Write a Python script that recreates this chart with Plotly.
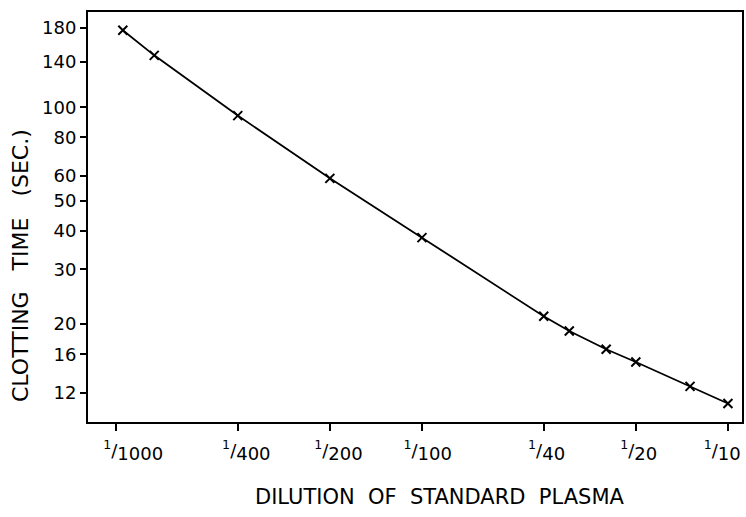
import plotly.graph_objects as go

# Data
dilution_denominators = [950, 750, 400, 200, 100, 40, 33, 25, 20, 13.3, 10]
clotting_time_sec = [177, 147, 94, 59, 38, 21.2, 19.0, 16.6, 15.1, 12.6, 11.1]

x_tick_denoms = [1000, 400, 200, 100, 40, 20, 10]
x_label_pad_left = [6, 3, 3, 2, 1, 1, 0]   # spaces nudging each label right, as drawn
x_label_pad_right = [0, 0, 0, 0, 0, 0, 2]  # spaces nudging the last label left
x_tick_text = ["\u00a0" * pl + "<sup>1</sup>/<sub><span style='font-size:18px'>%d</span></sub>" % d
               + "\u00a0" * pr
               for d, pl, pr in zip(x_tick_denoms, x_label_pad_left, x_label_pad_right)]
y_tick_vals = [12, 16, 20, 30, 40, 50, 60, 80, 100, 140, 180]

x_vals = [1.0 / d for d in dilution_denominators]
x_ticks = [1.0 / d for d in x_tick_denoms]

FONT = "DejaVu Sans"
W, H = 746, 517
# plot area in window pixels: left 88, right 742, top 12, bottom 422
ML, MR, MT, MB = 88, W - 742, 12, H - 422

fig = go.Figure()
fig.add_trace(go.Scatter(
    x=x_vals, y=clotting_time_sec, mode="lines+markers",
    line=dict(color="black", width=1.8),
    marker=dict(symbol="x-thin", size=9, line=dict(color="black", width=2), color="black"),
    showlegend=False,
))

fig.update_layout(
    width=W, height=H,
    margin=dict(l=ML, r=MR, t=MT, b=MB, autoexpand=False),
    plot_bgcolor="white", paper_bgcolor="white",
    font=dict(family=FONT, color="black"),
    xaxis=dict(
        type="log", range=[-3.0915, -0.954], automargin=False,
        tickvals=x_ticks, ticktext=x_tick_text,
        ticks="outside", ticklen=7, tickwidth=2, tickcolor="black",
        showline=True, linecolor="black", linewidth=2, mirror=True,
        showgrid=False, zeroline=False,
        tickfont=dict(size=18, family=FONT),
        ticklabelstandoff=4, ticklabeloverflow="allow",
    ),
    yaxis=dict(
        type="log", range=[0.9856, 2.307], automargin=False,
        tickvals=y_tick_vals, ticktext=[str(v) for v in y_tick_vals],
        ticks="outside", ticklen=6, tickwidth=2, tickcolor="black",
        showline=True, linecolor="black", linewidth=2, mirror=True,
        showgrid=False, zeroline=False,
        tickfont=dict(size=18, family=FONT),
    ),
)

pw, ph = W - ML - MR, H - MT - MB
def px_to_paper(px, py):
    return (px - ML) / pw, (H - MB - py) / ph

ax, ay = px_to_paper(20, 266)
bx, by = px_to_paper(439, 497)
fig.add_annotation(text="CLOTTING   TIME   (SEC.)", x=ax, y=ay, xref="paper", yref="paper",
                   showarrow=False, textangle=-90, xanchor="center", yanchor="middle",
                   font=dict(size=22, family=FONT))
fig.add_annotation(text="DILUTION  OF  STANDARD  PLASMA", x=bx, y=by, xref="paper", yref="paper",
                   showarrow=False, xanchor="center", yanchor="middle",
                   font=dict(size=21, family=FONT))

fig.write_html("out.html", config={"displayModeBar": False},
               post_script="document.body.style.margin='0';document.body.style.overflow='hidden';")
